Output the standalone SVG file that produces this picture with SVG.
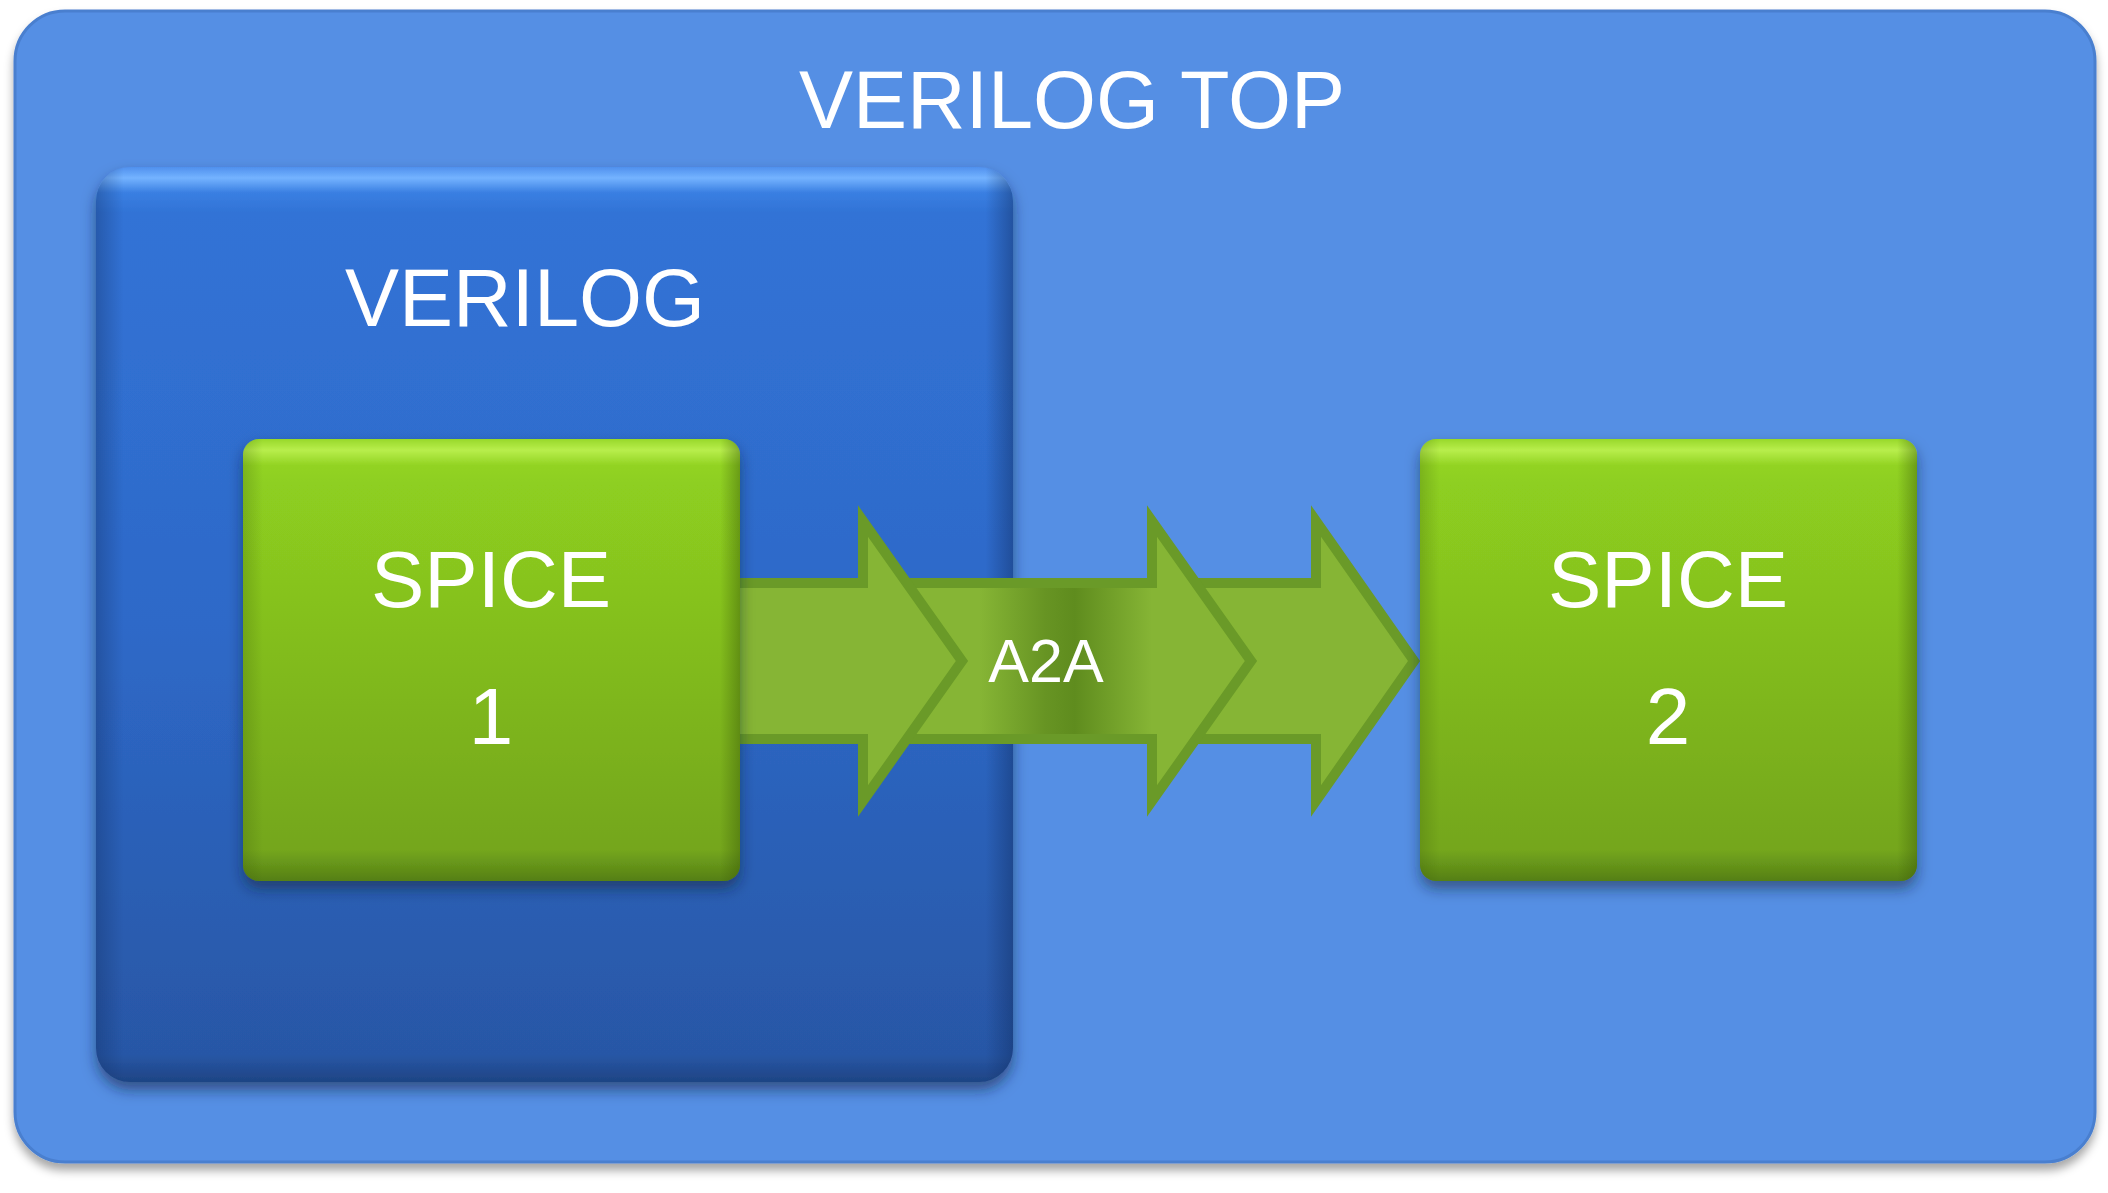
<svg xmlns="http://www.w3.org/2000/svg" width="2108" height="1193" viewBox="0 0 2108 1193">
  <style>
    .lbl { font-family: "Liberation Sans", Arial, sans-serif; fill: #ffffff; text-anchor: middle; }
    .arrow { fill: #86b535; stroke: #6a9a28; stroke-width: 10; stroke-linejoin: miter; stroke-miterlimit: 10; }
  </style>
  <defs>
    <filter id="shOuter" x="-5%" y="-5%" width="110%" height="115%">
      <feDropShadow dx="0" dy="7" stdDeviation="5" flood-color="#000" flood-opacity="0.35"/>
    </filter>
    <filter id="shBox" x="-10%" y="-10%" width="120%" height="120%">
      <feDropShadow dx="0" dy="8" stdDeviation="7" flood-color="#0a1f40" flood-opacity="0.55"/>
    </filter>
    <filter id="shSpice" x="-10%" y="-10%" width="120%" height="125%">
      <feDropShadow dx="0" dy="8" stdDeviation="7" flood-color="#0a1a30" flood-opacity="0.5"/>
    </filter>
    <linearGradient id="gVer" x1="0" y1="0" x2="0" y2="1">
      <stop offset="0" stop-color="#4f90ee"/>
      <stop offset="0.012" stop-color="#74b3ff"/>
      <stop offset="0.028" stop-color="#3a7fe2"/>
      <stop offset="0.05" stop-color="#3173d6"/>
      <stop offset="0.5" stop-color="#2e69c8"/>
      <stop offset="0.97" stop-color="#2857a6"/>
      <stop offset="1" stop-color="#1e4484"/>
    </linearGradient>
    <linearGradient id="gVerSide" x1="0" y1="0" x2="1" y2="0">
      <stop offset="0" stop-color="#102c60" stop-opacity="0.35"/>
      <stop offset="0.03" stop-color="#102c60" stop-opacity="0"/>
      <stop offset="0.97" stop-color="#102c60" stop-opacity="0"/>
      <stop offset="1" stop-color="#102c60" stop-opacity="0.45"/>
    </linearGradient>
    <linearGradient id="gSpice" x1="0" y1="0" x2="0" y2="1">
      <stop offset="0" stop-color="#98d82a"/>
      <stop offset="0.025" stop-color="#b8ee4c"/>
      <stop offset="0.06" stop-color="#92d322"/>
      <stop offset="0.1" stop-color="#8ecf20"/>
      <stop offset="0.93" stop-color="#74a61c"/>
      <stop offset="0.96" stop-color="#67961a"/>
      <stop offset="1" stop-color="#557f14"/>
    </linearGradient>
    <linearGradient id="gSpiceSide" x1="0" y1="0" x2="1" y2="0">
      <stop offset="0" stop-color="#3a5a08" stop-opacity="0.25"/>
      <stop offset="0.04" stop-color="#3a5a08" stop-opacity="0"/>
      <stop offset="0.96" stop-color="#3a5a08" stop-opacity="0"/>
      <stop offset="1" stop-color="#3a5a08" stop-opacity="0.45"/>
    </linearGradient>
    <linearGradient id="gA2A" gradientUnits="userSpaceOnUse" x1="980" y1="0" x2="1152" y2="0">
      <stop offset="0" stop-color="#86b535"/>
      <stop offset="0.38" stop-color="#679423"/>
      <stop offset="0.55" stop-color="#5f8c1e"/>
      <stop offset="1" stop-color="#86b535"/>
    </linearGradient>
  </defs>

  <rect width="2108" height="1193" fill="#ffffff"/>

  <g id="node-verilog-top">
    <rect x="15" y="11" width="2080" height="1151" rx="50" ry="50" fill="#558fe4" stroke="#4a7fcf" stroke-width="3" filter="url(#shOuter)"/>
    <text class="lbl" x="1072" y="128" font-size="81">VERILOG TOP</text>
  </g>

  <g id="node-verilog">
    <rect x="96" y="167" width="917" height="915" rx="34" ry="34" fill="url(#gVer)" filter="url(#shBox)"/>
    <rect x="96" y="167" width="917" height="915" rx="34" ry="34" fill="url(#gVerSide)"/>
    <text class="lbl" x="525" y="326" font-size="81">VERILOG</text>
  </g>

  <g id="connectors">
    <path id="arrow3" class="arrow" d="M1150 583 H1316 V521 L1414 661 L1316 801 V739 H1150 Z"/>
    <path id="arrow2" class="arrow" d="M860 583 H1152 V521 L1251 661 L1152 801 V739 H860 Z"/>
    <rect x="980" y="588" width="172" height="146" fill="url(#gA2A)"/>
    <path id="arrow1" class="arrow" d="M735 583 H863 V521 L962 661 L863 801 V739 H735 Z"/>
    <text class="lbl" x="1046" y="682" font-size="61">A2A</text>
  </g>

  <g id="node-spice1">
    <rect x="243" y="439" width="497" height="442" rx="16" ry="16" fill="url(#gSpice)" filter="url(#shSpice)"/>
    <rect x="243" y="439" width="497" height="442" rx="16" ry="16" fill="url(#gSpiceSide)"/>
    <text class="lbl" x="491" y="607" font-size="80">SPICE</text>
    <text class="lbl" x="491" y="744" font-size="80">1</text>
  </g>

  <g id="node-spice2">
    <rect x="1420" y="439" width="497" height="442" rx="16" ry="16" fill="url(#gSpice)" filter="url(#shSpice)"/>
    <rect x="1420" y="439" width="497" height="442" rx="16" ry="16" fill="url(#gSpiceSide)"/>
    <text class="lbl" x="1668" y="607" font-size="80">SPICE</text>
    <text class="lbl" x="1668" y="744" font-size="80">2</text>
  </g>
</svg>
